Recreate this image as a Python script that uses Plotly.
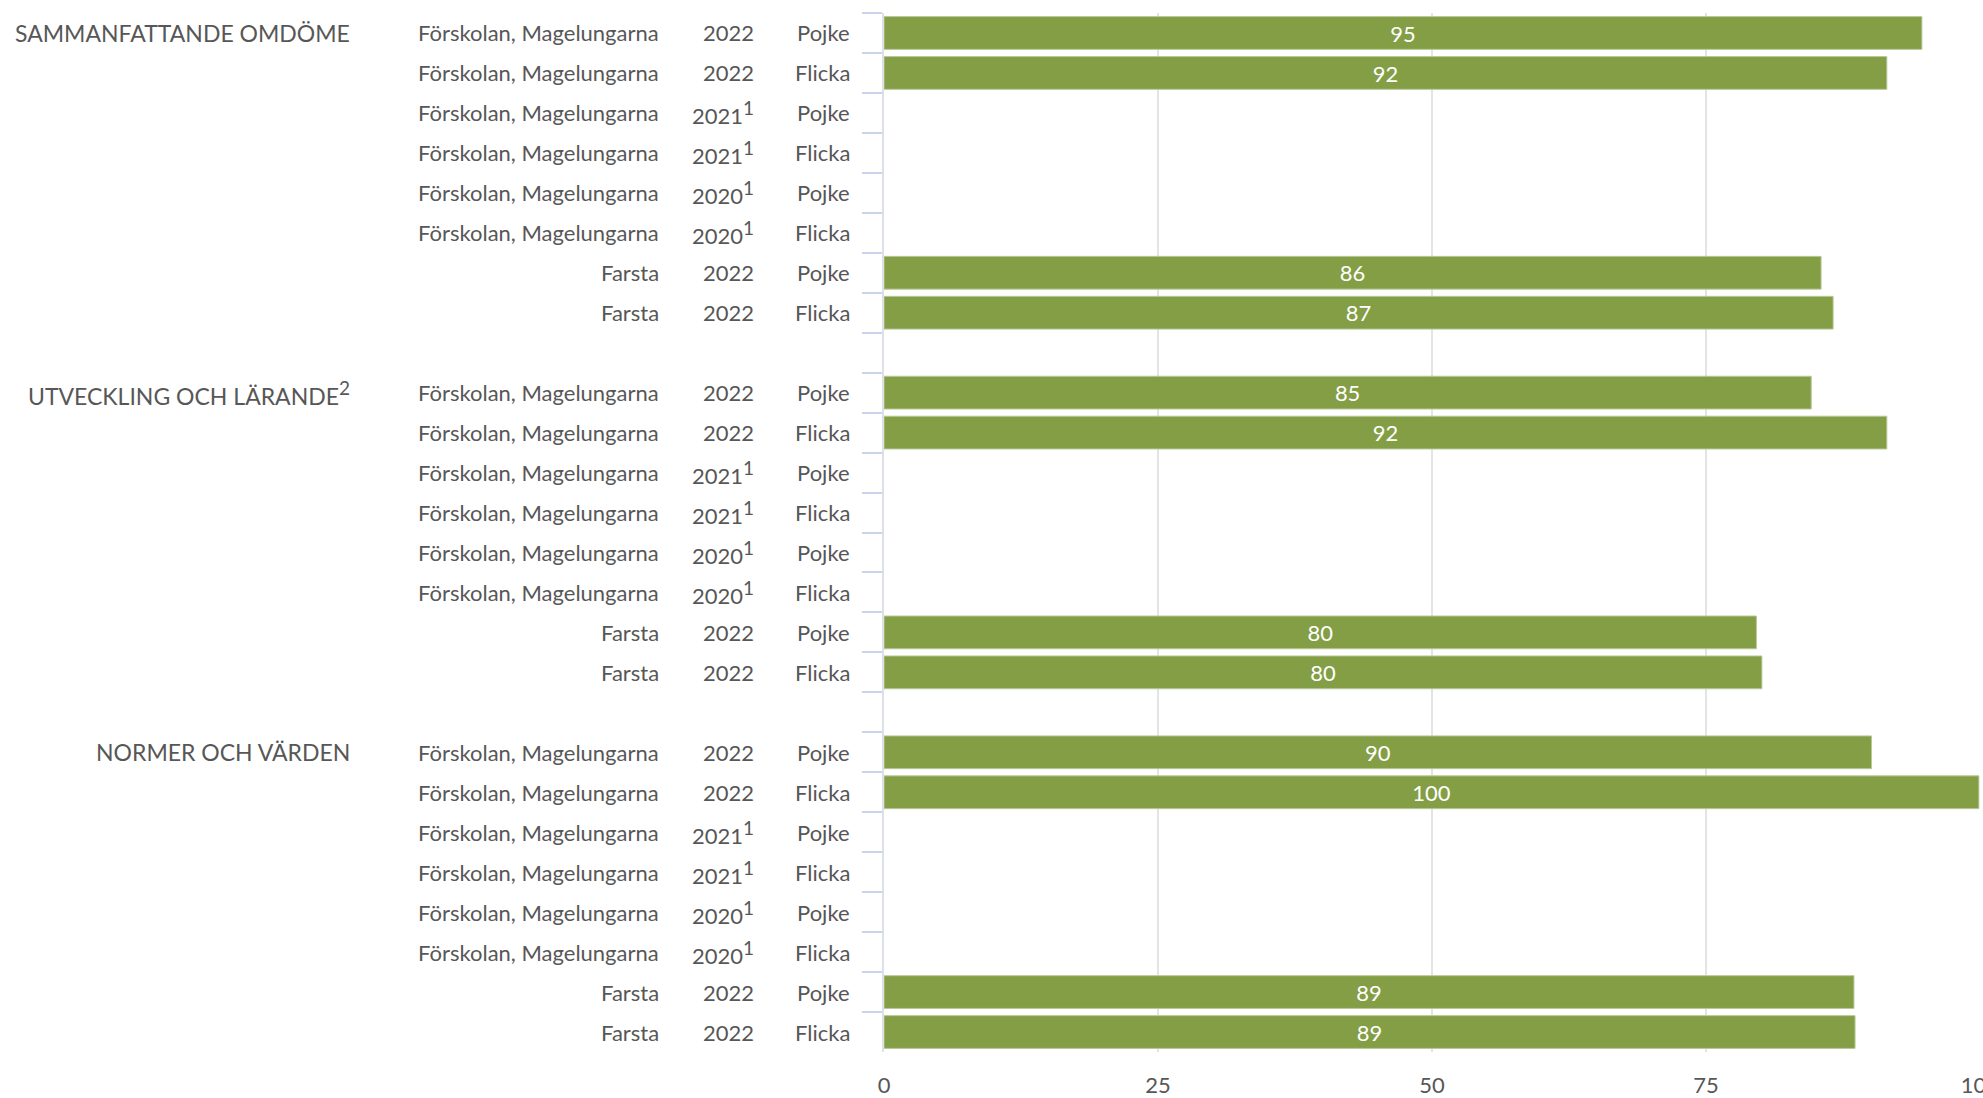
import plotly.graph_objects as go

SUP1 = "<sup><span style='font-size:19px'>1</span></sup>"
SUP2 = "<sup><span style='font-size:19px'>2</span></sup>"

groups = ["SAMMANFATTANDE OMDÖME", "UTVECKLING OCH LÄRANDE" + SUP2, "NORMER OCH VÄRDEN"]
units = ["Förskolan, Magelungarna"] * 6 + ["Farsta"] * 2
years = ["2022", "2022", "2021" + SUP1, "2021" + SUP1,
         "2020" + SUP1, "2020" + SUP1, "2022", "2022"]
genders = ["Pojke", "Flicka"] * 4

values = [
    [94.7, 91.5, None, None, None, None, 85.5, 86.6],
    [84.6, 91.5, None, None, None, None, 79.6, 80.1],
    [90.1, 99.9, None, None, None, None, 88.5, 88.6],
]
x_ticks = [0, 25, 50, 75, 100]

FONT = "Lato"
TEXT_COLOR = "#575757"
BAR_COLOR = "#839e45"

# build category keys (with spacer rows between groups)
cats = []
bar_y, bar_x = [], []
row_keys = []  # (key, group index, row index)
for g in range(len(groups)):
    for r in range(len(units)):
        key = f"g{g}r{r}"
        cats.append(key)
        if values[g][r] is not None:
            bar_y.append(key)
            bar_x.append(values[g][r])
        row_keys.append((key, g, r))
    if g < len(groups) - 1:
        cats.append(" " * (g + 1))

fig = go.Figure()
fig.add_trace(go.Bar(
    y=bar_y, x=bar_x, orientation="h",
    marker=dict(color=BAR_COLOR, line=dict(color="#b9c99a", width=1)),
    texttemplate="%{x:.0f}", textposition="inside", insidetextanchor="middle",
    textangle=0, textfont=dict(family=FONT, size=23, color="white"),
    hoverinfo="skip",
))

annotations = []
col_x = {"group": -0.4854, "unit": -0.2035, "year": -0.1168, "gender": -0.0292}
for key, g, r in row_keys:
    if r == 0:
        annotations.append(dict(text=groups[g], x=col_x["group"], y=key, xref="paper", yref="y",
                                xanchor="right", yanchor="middle", showarrow=False,
                                font=dict(size=23)))
    annotations.append(dict(text=units[r], x=col_x["unit"], y=key, xref="paper", yref="y",
                            xanchor="right", yanchor="middle", showarrow=False))
    annotations.append(dict(text=years[r], x=col_x["year"], y=key, xref="paper", yref="y",
                            xanchor="right", yanchor="middle", showarrow=False))
    annotations.append(dict(text=genders[r], x=col_x["gender"], y=key, xref="paper", yref="y",
                            xanchor="right", yanchor="middle", showarrow=False))

fig.update_layout(
    width=1983, height=1098,
    margin=dict(l=884, r=3, t=13, b=46),
    paper_bgcolor="white", plot_bgcolor="white",
    font=dict(family=FONT, size=22, color=TEXT_COLOR),
    bargap=0.18, showlegend=False, hovermode=False,
    annotations=annotations,
    xaxis=dict(range=[0, 100], tickvals=x_ticks, showgrid=True, gridcolor="#e4e4e4", gridwidth=2,
               zeroline=False, showline=False, ticks="outside", ticklen=14,
               tickcolor="rgba(0,0,0,0)", tickfont=dict(family=FONT, size=22, color=TEXT_COLOR),
               ticklabeloverflow="allow", automargin=False, fixedrange=True),
    yaxis=dict(type="category", categoryorder="array", categoryarray=cats,
               range=[len(cats) - 0.5, -0.5],
               showticklabels=False, ticks="outside", ticklen=20, tickwidth=2, tickcolor="#c9d3ea",
               tickson="boundaries", showgrid=False, showline=True, linecolor="#dde0e6",
               linewidth=2, zeroline=False, automargin=False, fixedrange=True),
)

fig.write_html("out.html", config={"displayModeBar": False},
               post_script="document.body.style.margin='0';document.body.style.overflow='hidden';")
